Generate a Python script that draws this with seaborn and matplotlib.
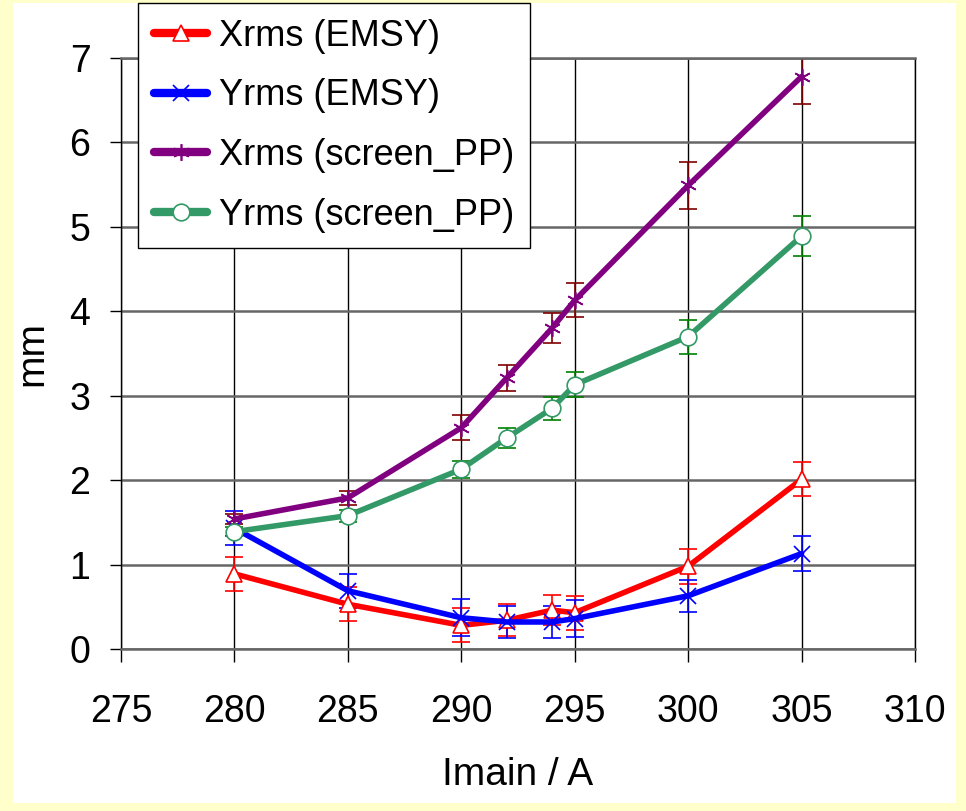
import numpy as np
import pandas as pd
import seaborn as sns
import matplotlib.pyplot as plt
from matplotlib.patches import Rectangle

# Data
imain = [280, 285, 290, 292, 294, 295, 300, 305]

xrms_emsy = [0.89, 0.53, 0.28, 0.34, 0.46, 0.43, 0.98, 2.01]
xrms_emsy_err = [0.20, 0.20, 0.20, 0.19, 0.18, 0.20, 0.21, 0.20]

yrms_emsy = [1.43, 0.69, 0.37, 0.32, 0.32, 0.36, 0.63, 1.13]
yrms_emsy_err = [0.20, 0.20, 0.22, 0.19, 0.19, 0.22, 0.19, 0.21]

xrms_pp = [1.54, 1.79, 2.62, 3.21, 3.80, 4.13, 5.49, 6.78]
xrms_pp_err = [0.06, 0.08, 0.15, 0.15, 0.18, 0.20, 0.28, 0.33]

yrms_pp = [1.39, 1.58, 2.13, 2.50, 2.85, 3.13, 3.70, 4.89]
yrms_pp_err = [0.05, 0.07, 0.10, 0.12, 0.14, 0.15, 0.20, 0.24]

series = [
    ("Xrms (EMSY)", xrms_emsy, xrms_emsy_err, "#FF0000", "#FF0000", "^", "white"),
    ("Yrms (EMSY)", yrms_emsy, yrms_emsy_err, "#0000FF", "#0000FF", "x", "#0000FF"),
    ("Xrms (screen_PP)", xrms_pp, xrms_pp_err, "#800080", "#800000", (6, 2, 0), "#800080"),
    ("Yrms (screen_PP)", yrms_pp, yrms_pp_err, "#339966", "#008000", "o", "white"),
]

sns.set_style("white")
plt.rcParams["font.family"] = ["Liberation Sans", "DejaVu Sans"]
plt.rcParams["text.color"] = "black"
plt.rcParams["axes.labelcolor"] = "black"
plt.rcParams["xtick.color"] = "black"
plt.rcParams["ytick.color"] = "black"

fig = plt.figure(figsize=(9.66, 8.11), dpi=100, facecolor="#FFFFCC")
bg = Rectangle((13 / 966, 1 - 803 / 811), (956 - 13) / 966, (803 - 3) / 811,
               transform=fig.transFigure, facecolor="white", edgecolor="none", zorder=-10)
fig.add_artist(bg)
ax = fig.add_axes([121 / 966, 1 - 649 / 811, (915 - 121) / 966, (649 - 58) / 811])
ax.set_facecolor("white")

for label, vals, errs, col, ecol, mk, mfc in series:
    df = pd.DataFrame({"Imain": imain, "val": vals})
    sns.lineplot(data=df, x="Imain", y="val", ax=ax, color=col, linewidth=4, marker=mk,
                 markersize=12, markerfacecolor=mfc, markeredgecolor=col, markeredgewidth=1.2,
                 label=label, zorder=3)
    ax.errorbar(imain, vals, yerr=errs, fmt="none", ecolor=ecol, elinewidth=1.2,
                capsize=6.5, capthick=1.2, zorder=2)

ax.set_xlim(275, 310)
ax.set_ylim(0, 7)
ax.set_xticks(range(275, 311, 5))
ax.set_yticks(range(0, 8))
ax.grid(axis="x", color="black", lw=1.0)
ax.grid(axis="y", color="#666666", lw=1.8)
ax.set_axisbelow(True)

for side in ["top", "bottom"]:
    ax.spines[side].set_color("#666666")
    ax.spines[side].set_linewidth(1.8)
for side in ["left", "right"]:
    ax.spines[side].set_color("black")
    ax.spines[side].set_linewidth(1.0)

ax.tick_params(axis="x", direction="out", length=9.5, width=1,
               labelsize=27, pad=23, bottom=True)
ax.tick_params(axis="y", direction="out", length=8, width=1,
               labelsize=27, pad=14, left=True)

ax.set_xlabel("Imain / A", fontsize=28, labelpad=19)
ax.set_ylabel("mm", fontsize=28, labelpad=14)

leg = ax.legend(loc="upper left", bbox_to_anchor=(0.022, 1.093), fontsize=26,
                frameon=True, fancybox=False, edgecolor="black", framealpha=1,
                handlelength=1.45, handletextpad=0.35, labelspacing=0.68,
                borderpad=0.44, borderaxespad=0)
leg.get_frame().set_linewidth(1.0)
leg.set_zorder(5)
for h in leg.get_lines():
    h.set_linewidth(6)

fig.savefig("out.png", dpi=100, facecolor=fig.get_facecolor())
